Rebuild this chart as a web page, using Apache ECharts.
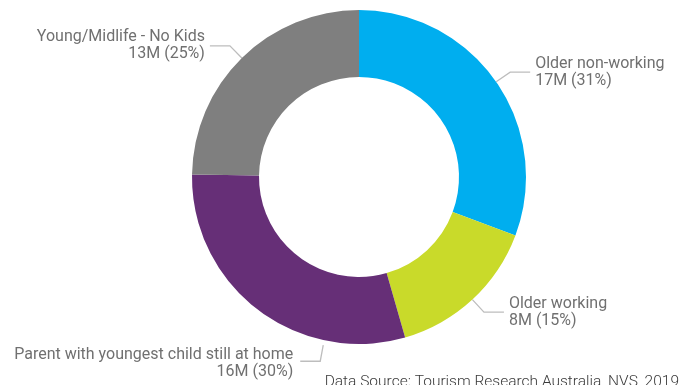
<!DOCTYPE html>
<html>
<head>
<meta charset="utf-8">
<script src="https://cdn.jsdelivr.net/npm/echarts@6/dist/echarts.min.js"></script>
<style>
  html, body { margin: 0; padding: 0; background: #fff; }
  #chart { width: 687px; height: 385px; }
</style>
</head>
<body>
<div id="chart"></div>
<script>
// Holiday travellers by life stage
const segments = ['Older non-working', 'Older working', 'Parent with youngest child still at home', 'Young/Midlife - No Kids'];
const millions = [17, 8, 16, 13];
const shares = [31, 15, 30, 25];
const colours = ['#00AEEF', '#C9DA2A', '#662F77', '#7F7F7F'];
const source = 'Data Source: Tourism Research Australia, NVS, 2019';

// Ring geometry (pixels)
const CX = 359, CY = 177, R_IN = 100, R_OUT = 167;

const chart = echarts.init(document.getElementById('chart'), null, { renderer: 'canvas' });

chart.setOption({
  animation: false,
  title: {
    text: source,
    right: 3,
    bottom: -10,
    textStyle: { fontFamily: 'Roboto', fontWeight: 300, fontSize: 15.5, color: '#3a3a3a' }
  },
  series: [{
    type: 'pie',
    center: [CX, CY],
    radius: [R_IN, R_OUT],
    startAngle: 90,
    clockwise: true,
    data: segments.map((name, i) => ({
      name,
      value: shares[i],
      itemStyle: { color: colours[i] }
    })),
    label: {
      show: true,
      fontFamily: 'Roboto',
      fontSize: 16,
      lineHeight: 17,
      color: '#707070',
      overflow: 'none',
      formatter: p => p.name + '\n' + millions[p.dataIndex] + 'M (' + shares[p.dataIndex] + '%)'
    },
    labelLine: {
      length: 17,
      length2: 20,
      lineStyle: { color: '#bdbdbd', width: 1.3 }
    },
    labelLayout: function (params) {
      // The long label sits below the ring, its leader dropping from the bottom edge
      if (params.dataIndex === 2) {
        const a = 192 * Math.PI / 180;
        const r0 = R_OUT + 5;
        const sx = CX + r0 * Math.sin(a), sy = CY - r0 * Math.cos(a);
        const ey = sy + 16;
        return {
          x: sx - 30,
          y: ey + 2,
          width: 320,
          align: 'right',
          verticalAlign: 'middle',
          labelLinePoints: [[sx, sy], [sx - 3, ey], [sx - 23, ey]]
        };
      }
    }
  }]
});
</script>
</body>
</html>
